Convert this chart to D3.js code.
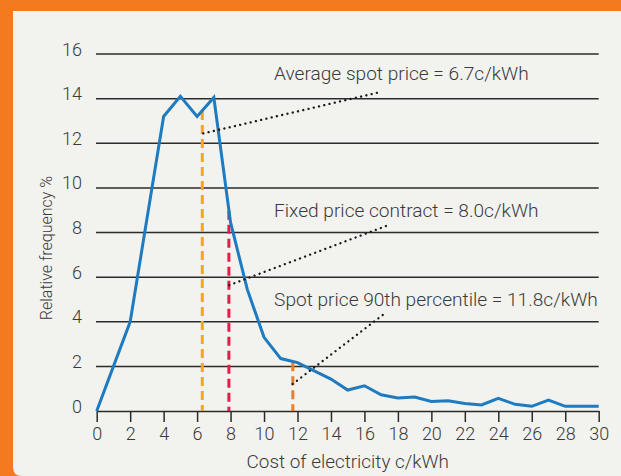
<!DOCTYPE html>
<html>
<head>
<meta charset="utf-8">
<title>Relative frequency of electricity cost</title>
<script src="https://d3js.org/d3.v7.min.js"></script>
<style>
  body { margin: 0; background: #f47a20; }
  svg { display: block; }
  text { font-family: Roboto, "Liberation Sans", Arial, sans-serif; font-weight: 300; fill: #3a3a3a; }
</style>
</head>
<body>
<div id="chart"></div>
<script>
// cost in c/kWh and relative frequency in %
var cost = [0, 1, 2, 3, 4, 5, 6, 7, 8, 9, 10, 11, 12, 13, 14, 15, 16, 17, 18, 19, 20, 21, 22, 23, 24, 25, 26, 27, 28, 29, 30];
var freq = [0, 2, 4, 8.6, 13.2, 14.1, 13.2, 14.05, 8.45, 5.45, 3.3, 2.35, 2.17, 1.8, 1.43, 0.94, 1.13, 0.73, 0.58, 0.63, 0.43, 0.46, 0.34, 0.27, 0.57, 0.3, 0.21, 0.49, 0.21, 0.21, 0.21];

var xTicks = d3.range(0, 31, 2);
var yTicks = [0, 2, 4, 6, 8, 10, 12, 14, 16];

// marker lines: price, top of dashed line
var markerPrice = [6.31, 7.9, 11.72];
var markerTop = [13.44, 8.97, 2.18];
var markerColor = ["#f7a51e", "#e8194b", "#f47b20"];

// annotation leader lines (data coords) and labels
var noteText = ["Average spot price = 6.7c/kWh", "Fixed price contract = 8.0c/kWh", "Spot price 90th percentile = 11.8c/kWh"];
var noteFrom = [[6.37, 12.44], [7.92, 5.64], [11.71, 1.21]];
var noteTo = [[17.03, 14.31], [17.43, 8.33], [17.33, 4.44]];
var noteAt = [[10.6, 14.83], [10.6, 8.68], [10.6, 4.71]];

var width = 621, height = 476;
var svg = d3.select("#chart").append("svg").attr("width", width).attr("height", height);

// light panel with rounded lower left corner
svg.append("path")
  .attr("d", "M13,11 H621 V476 H22 Q13,476 13,467 Z")
  .attr("fill", "#f2f2ee");

var x = d3.scaleLinear().domain([0, 30]).range([96.7, 598.7]);
var y = d3.scaleLinear().domain([0, 16]).range([411, 54]);

// gridlines
svg.append("g").selectAll("line").data(yTicks.filter(function(d){ return d > 0; }))
  .enter().append("line")
  .attr("x1", x(0) - 0.7).attr("x2", x(30))
  .attr("y1", function(d){ return y(d); }).attr("y2", function(d){ return y(d); })
  .attr("stroke", "#2b2b2b").attr("stroke-width", 1.5);

// y labels
svg.append("g").selectAll("text").data(yTicks)
  .enter().append("text")
  .attr("x", 82).attr("y", function(d){ return y(d) + 1.5; })
  .attr("text-anchor", "end")
  .style("font-size", "18px")
  .text(function(d){ return d; });

// x axis
var xAxis = svg.append("g")
  .attr("transform", "translate(0," + y(0) + ")")
  .call(d3.axisBottom(x).tickValues(xTicks).tickSize(11).tickPadding(5).tickSizeOuter(0));
xAxis.attr("font-family", null).attr("font-size", null);
xAxis.select(".domain").attr("stroke", "#2b2b2b").attr("stroke-width", 1.5);
xAxis.selectAll(".tick line").attr("stroke", "#2b2b2b").attr("stroke-width", 1.5);
xAxis.selectAll(".tick text")
  .attr("fill", null)
  .style("font-size", "18px");

// axis titles
svg.append("text")
  .attr("x", (x(0) + x(30)) / 2).attr("y", 468)
  .attr("text-anchor", "middle")
  .style("font-size", "18.9px")
  .text("Cost of electricity c/kWh");

svg.append("text")
  .attr("transform", "translate(52," + 248 + ") rotate(-90)")
  .attr("text-anchor", "middle")
  .style("font-size", "16px")
  .text("Relative frequency %");

// dashed marker lines
svg.append("g").selectAll("line").data(markerPrice)
  .enter().append("line")
  .attr("x1", function(d){ return x(d); }).attr("x2", function(d){ return x(d); })
  .attr("y1", function(d, i){ return y(markerTop[i]); }).attr("y2", y(0))
  .attr("stroke", function(d, i){ return markerColor[i]; })
  .attr("stroke-width", 3)
  .attr("stroke-dasharray", "9 5");

// frequency line
var line = d3.line()
  .x(function(d, i){ return x(cost[i]); })
  .y(function(d){ return y(d); });

svg.append("path")
  .datum(freq)
  .attr("d", line)
  .attr("fill", "none")
  .attr("stroke", "#1f7bbf")
  .attr("stroke-width", 3)
  .attr("stroke-linejoin", "miter");

// dotted leader lines
svg.append("g").selectAll("line").data(noteFrom)
  .enter().append("line")
  .attr("x1", function(d){ return x(d[0]); }).attr("y1", function(d){ return y(d[1]); })
  .attr("x2", function(d, i){ return x(noteTo[i][0]); }).attr("y2", function(d, i){ return y(noteTo[i][1]); })
  .attr("stroke", "#1a1a1a")
  .attr("stroke-width", 2.3)
  .attr("stroke-linecap", "round")
  .attr("stroke-dasharray", "0.1 5.3");

// labels
svg.append("g").selectAll("text").data(noteText)
  .enter().append("text")
  .attr("x", function(d, i){ return x(noteAt[i][0]); })
  .attr("y", function(d, i){ return y(noteAt[i][1]); })
  .style("font-size", "19.1px")
  .text(function(d){ return d; });
</script>
</body>
</html>
